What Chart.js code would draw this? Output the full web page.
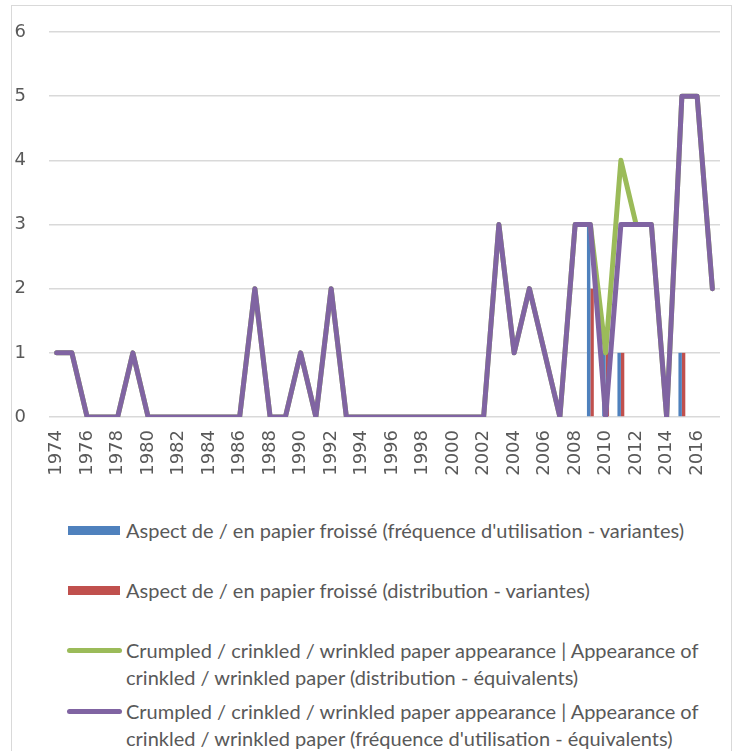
<!DOCTYPE html>
<html>
<head>
<meta charset="utf-8">
<script src="https://cdn.jsdelivr.net/npm/chart.js@4.4.0/dist/chart.umd.min.js"></script>
<style>
  body { margin: 0; background: #fff; width: 733px; height: 751px; overflow: hidden; position: relative; }
  #frame { position: absolute; left: 11px; top: 5px; width: 719px; height: 760px;
           border: 1.5px solid #d9d9d9; border-bottom: none; }
  #chartCanvas { position: absolute; left: 0; top: 0; }
  #legend { position: absolute; left: 0; top: 0; font-family: Lato, sans-serif; font-size: 20px; color: #595959; }
  .item { position: absolute; left: 126px; white-space: nowrap; line-height: 27px; }
  .key { position: absolute; }
</style>
</head>
<body>
<div id="frame"></div>
<canvas id="chartCanvas" width="733" height="510"></canvas>
<div id="legend"></div>
<script>
// annees
const years = ['1974','1975','1976','1977','1978','1979','1980','1981','1982','1983','1984',
  '1985','1986','1987','1988','1989','1990','1991','1992','1993','1994','1995','1996','1997',
  '1998','1999','2000','2001','2002','2003','2004','2005','2006','2007','2008','2009','2010',
  '2011','2012','2013','2014','2015','2016','2017'];

// barres (variantes)
const freqVariantes = [null,null,null,null,null,null,null,null,null,null,null,null,null,null,
  null,null,null,null,null,null,null,null,null,null,null,null,null,null,null,null,null,null,
  null,null,null,3,1,1,null,null,null,1,null,null];
const distVariantes = [null,null,null,null,null,null,null,null,null,null,null,null,null,null,
  null,null,null,null,null,null,null,null,null,null,null,null,null,null,null,null,null,null,
  null,null,null,2,1,1,null,null,null,1,null,null];

// lignes (equivalents)
const distEquivalents = [1,1,0,0,0,1,0,0,0,0,0,0,0,2,0,0,1,0,2,0,0,0,0,0,0,0,0,0,0,
  3,1,2,1,0,3,3,1,4,3,3,0,5,5,2];
const freqEquivalents = [1,1,0,0,0,1,0,0,0,0,0,0,0,2,0,0,1,0,2,0,0,0,0,0,0,0,0,0,0,
  3,1,2,1,0,3,3,0,3,3,3,0,5,5,2];

const yTicks = [0, 1, 2, 3, 4, 5, 6];

const seriesNames = [
  "Aspect de / en papier froissé (fréquence d'utilisation - variantes)",
  "Aspect de / en papier froissé (distribution - variantes)",
  "Crumpled / crinkled / wrinkled paper appearance | Appearance of\ncrinkled / wrinkled paper (distribution - équivalents)",
  "Crumpled / crinkled / wrinkled paper appearance | Appearance of\ncrinkled / wrinkled paper (fréquence d'utilisation - équivalents)"
];
const colors = ['#4f81bd', '#c0504d', '#9bbb59', '#8064a2'];

const ctx = document.getElementById('chartCanvas').getContext('2d');
const tickFont = { family: "'DejaVu Sans', sans-serif", size: 18 };

const chart = new Chart(ctx, {
  data: {
    labels: years,
    datasets: [
      // order sert aussi au placement des barres : bleu a gauche, rouge a droite
      { type: 'bar', label: seriesNames[0], data: freqVariantes, backgroundColor: colors[0],
        categoryPercentage: 0.45, barPercentage: 1, order: 2 },
      { type: 'bar', label: seriesNames[1], data: distVariantes, backgroundColor: colors[1],
        categoryPercentage: 0.45, barPercentage: 1, order: 3 },
      { type: 'line', label: seriesNames[2], data: distEquivalents, borderColor: colors[2],
        borderWidth: 5, pointRadius: 0, tension: 0, borderJoinStyle: 'round', borderCapStyle: 'round', order: 1 },
      { type: 'line', label: seriesNames[3], data: freqEquivalents, borderColor: colors[3],
        borderWidth: 5, pointRadius: 0, tension: 0, borderJoinStyle: 'round', borderCapStyle: 'round', order: 0 }
    ]
  },
  options: {
    responsive: false,
    animation: false,
    layout: { padding: { top: 32, right: 13, left: 0, bottom: 0 } },
    plugins: { legend: { display: false }, tooltip: { enabled: false } },
    scales: {
      x: {
        offset: true,
        grid: { display: false, drawTicks: false },
        border: { display: false },
        ticks: {
          autoSkip: false, maxRotation: 90, minRotation: 90, padding: 13,
          color: '#595959', font: tickFont,
          callback: function (val, i) { return i % 2 === 0 ? this.getLabelForValue(val) : ''; }
        },
        afterFit: s => { s.height = 93; s.paddingLeft = 0; s.paddingRight = 0; }
      },
      y: {
        min: 0, max: 6,
        afterBuildTicks: s => { s.ticks = yTicks.map(v => ({ value: v })); },
        grid: { color: '#d9d9d9', lineWidth: 1.5, drawTicks: false },
        border: { display: false },
        ticks: { padding: 23, color: '#595959', font: tickFont },
        afterFit: s => { s.width = 49; s.paddingTop = 0; s.paddingBottom = 0; }
      }
    }
  }
});

// legende (HTML)
const legend = document.getElementById('legend');
const rows = [530, 590, 650, 711];
seriesNames.forEach((name, i) => {
  const key = document.createElement('div');
  key.className = 'key';
  if (i < 2) {
    Object.assign(key.style, { left: '68px', top: (rows[i] - 4) + 'px', width: '52px', height: '9px', background: colors[i] });
  } else {
    Object.assign(key.style, { left: '67px', top: (rows[i] - 2.5) + 'px', width: '55px', height: '5px',
      background: colors[i], borderRadius: '3px' });
  }
  legend.appendChild(key);
  const txt = document.createElement('div');
  txt.className = 'item';
  txt.style.top = (rows[i] - 13.5) + 'px';
  txt.innerHTML = name.replace('\n', '<br>');
  legend.appendChild(txt);
});
</script>
</body>
</html>
